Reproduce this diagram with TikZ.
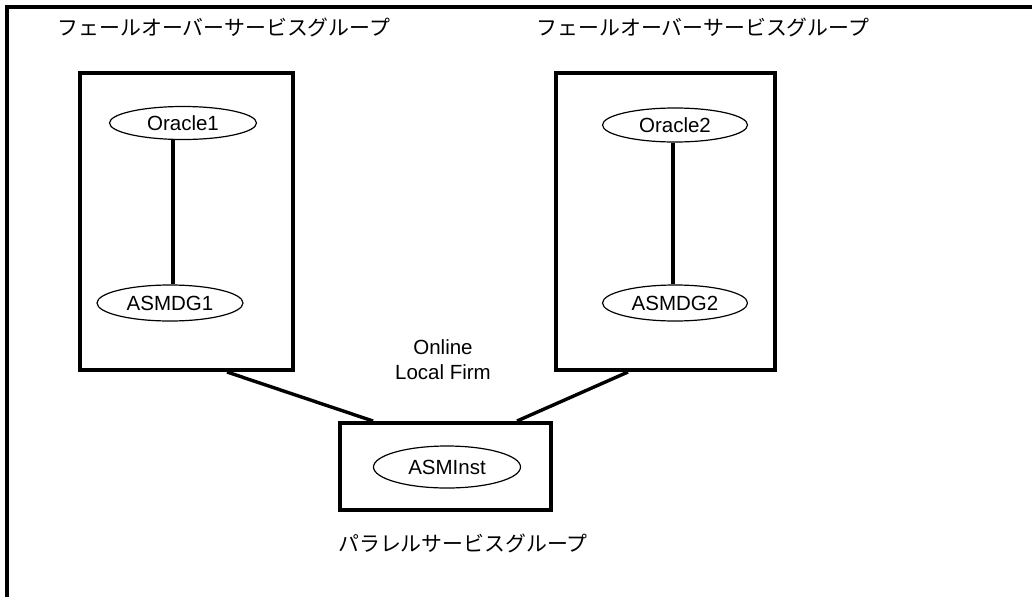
\documentclass[tikz,border=0pt]{standalone}
\usepackage{fontspec}
\setmainfont{Liberation Sans}
\newfontfamily\jpfont{Noto Sans CJK JP}
\usetikzlibrary{shapes.geometric}
\begin{document}
\begin{tikzpicture}[x=1pt,y=-1pt,
  every node/.style={font=\fontsize{20.5}{25}\selectfont, inner sep=0pt},
  grp/.style={draw, line width=4pt, rectangle},
  res/.style={draw, line width=1.2pt, ellipse, inner sep=0pt},
  jp/.style={font=\jpfont\fontsize{20.9}{25}\selectfont},
  link/.style={line width=3.4pt}]
\useasboundingbox (0,0) rectangle (1032,597);
% outer frame (left and top edges only)
\coordinate (fa) at (7,597);
\coordinate (fb) at (7,7);
\coordinate (fc) at (1032,7);
\draw[line width=3.8pt] (fa) -- (fb) -- (fc);
% titles
\node[jp] (t1) at (224,27) {フェールオーバーサービスグループ};
\node[jp] (t2) at (703,27) {フェールオーバーサービスグループ};
% group boxes
\node[grp, minimum width=213pt, minimum height=297pt] (box1) at (186.5,221.5) {};
\node[grp, minimum width=219pt, minimum height=297pt] (box2) at (665.5,221.5) {};
\node[grp, minimum width=211pt, minimum height=87pt] (box3) at (445.5,466.5) {};
% resources
\node[res, minimum width=147pt, minimum height=33pt] (oracle1) at (183,123) {Oracle1};
\node[res, minimum width=146pt, minimum height=36pt] (asmdg1) at (170,303) {ASMDG1};
\node[res, minimum width=145pt, minimum height=34pt] (oracle2) at (675,125) {Oracle2};
\node[res, minimum width=145pt, minimum height=36pt] (asmdg2) at (675,303) {ASMDG2};
\node[res, minimum width=147pt, minimum height=42pt] (asminst) at (447,467) {ASMInst};
% labels
\node[align=center] (dep) at (443,360) {Online\\Local Firm};
\node[jp] (par) at (463,543) {パラレルサービスグループ};
% connectors
\draw[link] ([xshift=-10pt]oracle1.south) -- ([xshift=3pt]asmdg1.north);
\draw[link] ([xshift=-2pt]oracle2.south) -- ([xshift=-2pt]asmdg2.north);
\draw[link] ([xshift=40.5pt]box1.south) -- ([xshift=-72.5pt]box3.north);
\draw[link] ([xshift=-37.5pt]box2.south) -- ([xshift=71.5pt]box3.north);
\end{tikzpicture}
\end{document}
